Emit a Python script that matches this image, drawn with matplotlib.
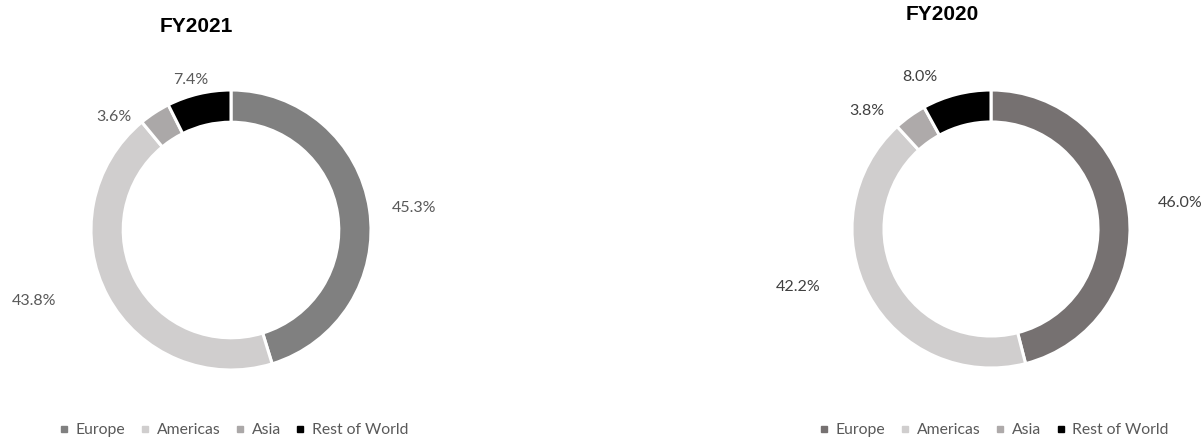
import matplotlib.pyplot as plt
from matplotlib.lines import Line2D

regions = ['Europe', 'Americas', 'Asia', 'Rest of World']
fy2021 = [45.3, 43.8, 3.6, 7.4]
fy2020 = [46.0, 42.2, 3.8, 8.0]

colors_2021 = ['#808080', '#D0CECE', '#ABA8A8', '#000000']
colors_2020 = ['#767171', '#D0CECE', '#AEAAAA', '#000000']

W, H = 1203, 437
fig = plt.figure(figsize=(W / 100, H / 100), dpi=100)


def donut(cx, cy, r, values, colors, label_pos, label_color, title, title_xy, legend_x):
    ax = fig.add_axes([(cx - r) / W, (H - cy - r) / H, 2 * r / W, 2 * r / H])
    ax.pie(values, colors=colors, startangle=90, counterclock=False,
           wedgeprops=dict(width=0.23, edgecolor='white', linewidth=2.2))
    ax.set_xlim(-1, 1)
    ax.set_ylim(-1, 1)
    ax.set_aspect('equal')
    ax.axis('off')
    for v, (lx, ly) in zip(values, label_pos):
        ax.text(lx, ly, f'{v:.1f}%', ha='center', va='center',
                fontsize=11.5, color=label_color, family='Lato')
    fig.text(title_xy[0] / W, 1 - title_xy[1] / H, title, ha='center', va='center',
             fontsize=15, fontweight='bold', family='Liberation Sans')
    handles = [Line2D([], [], marker='s', linestyle='', markersize=5,
                      markerfacecolor=c, markeredgecolor=c) for c in colors]
    fig.legend(handles, regions, loc='center left',
               bbox_to_anchor=(legend_x / W, 1 - 430 / H), ncol=4, frameon=False,
               handlelength=0.6, handletextpad=0.45, columnspacing=0.95,
               prop={'family': 'Lato', 'size': 11.3}, labelcolor='#595959',
               borderaxespad=0, borderpad=0)


donut(231, 230, 140, fy2021, colors_2021,
      [(1.31, 0.16), (-1.41, -0.51), (-0.84, 0.81), (-0.29, 1.07)],
      '#595959', 'FY2021', (196, 26), 59)
donut(991, 229, 139, fy2020, colors_2020,
      [(1.36, 0.19), (-1.39, -0.42), (-0.89, 0.85), (-0.51, 1.09)],
      '#404040', 'FY2020', (942, 15), 819)

fig.savefig('out.png', dpi=100)
